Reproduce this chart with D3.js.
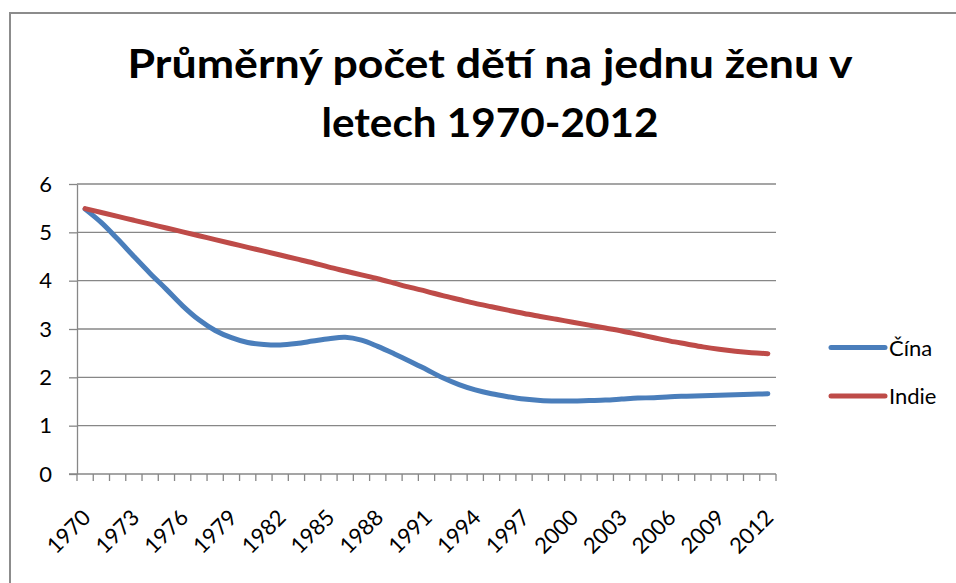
<!DOCTYPE html>
<html>
<head>
<meta charset="utf-8">
<script src="https://cdn.jsdelivr.net/npm/d3@7"></script>
<style>
  body { margin: 0; background: #fff; }
  text { font-family: Lato, "Open Sans", sans-serif; fill: #000; }
</style>
</head>
<body>
<div id="chart"></div>
<script>
// data
var years = d3.range(1970, 2013);
var labelYears = [1970, 1973, 1976, 1979, 1982, 1985, 1988, 1991, 1994, 1997, 2000, 2003, 2006, 2009, 2012];
var yTicks = [0, 1, 2, 3, 4, 5, 6];
var cina = [5.48, 5.20, 4.86, 4.50, 4.15, 3.82, 3.48, 3.19, 2.97, 2.82, 2.72, 2.68, 2.67, 2.70, 2.75,
            2.80, 2.83, 2.77, 2.64, 2.49, 2.33, 2.16, 1.99, 1.85, 1.74, 1.66, 1.60, 1.55, 1.52, 1.51,
            1.51, 1.52, 1.53, 1.55, 1.57, 1.58, 1.60, 1.61, 1.62, 1.63, 1.64, 1.65, 1.66];
var indie = [5.49, 5.41, 5.33, 5.25, 5.17, 5.09, 5.01, 4.93, 4.85, 4.77, 4.69, 4.61, 4.53, 4.45, 4.37,
             4.28, 4.20, 4.12, 4.04, 3.95, 3.86, 3.78, 3.69, 3.61, 3.53, 3.46, 3.39, 3.32, 3.26, 3.20,
             3.14, 3.08, 3.02, 2.96, 2.89, 2.82, 2.75, 2.69, 2.63, 2.58, 2.54, 2.51, 2.49];
var seriesNames = ["Čína", "Indie"];
var colors = ["#4a7ebb", "#be4b48"];
var titleLines = ["Průměrný počet dětí na jednu ženu v", "letech 1970-2012"];

var w = 956;
var h = 583;
// plot area (window.top is reserved, so use own names)
var pLeft = 77, pRight = 776, pTop = 184, pBottom = 474;

var svg = d3.select("#chart")
            .append("svg")
            .attr("width", w)
            .attr("height", h);

// outer chart border
svg.append("rect")
   .attr("x", 10)
   .attr("y", 13)
   .attr("width", 980)
   .attr("height", 620)
   .attr("fill", "none")
   .attr("stroke", "#8c8c8c")
   .attr("stroke-width", 2);

// title
svg.append("text")
   .attr("x", 490)
   .attr("y", 78)
   .attr("text-anchor", "middle")
   .attr("font-size", 40)
   .attr("font-weight", "bold")
   .attr("textLength", 725)
   .attr("lengthAdjust", "spacingAndGlyphs")
   .text(titleLines[0]);

svg.append("text")
   .attr("x", 490)
   .attr("y", 137)
   .attr("text-anchor", "middle")
   .attr("font-size", 40)
   .attr("font-weight", "bold")
   .attr("textLength", 337)
   .attr("lengthAdjust", "spacingAndGlyphs")
   .text(titleLines[1]);

// scales
var band = d3.scaleBand().domain(years).range([pLeft, pRight]);
var x = d3.scalePoint().domain(years).range([pLeft, pRight]).padding(0.5);
var y = d3.scaleLinear().domain([0, 6]).range([pBottom, pTop]);

// gridlines
svg.append("g")
   .selectAll("line")
   .data(yTicks.slice(1))
   .enter()
   .append("line")
   .attr("x1", pLeft)
   .attr("x2", pRight)
   .attr("y1", function(d) { return y(d); })
   .attr("y2", function(d) { return y(d); })
   .attr("stroke", "#878787")
   .attr("stroke-width", 1.3);

// y axis
var yAxis = svg.append("g")
   .attr("transform", "translate(" + pLeft + ",0)")
   .call(d3.axisLeft(y).tickValues(yTicks).tickFormat(d3.format("d"))
           .tickSize(8).tickPadding(17).tickSizeOuter(0));
yAxis.select(".domain").attr("stroke", "#878787").attr("stroke-width", 1.3);
yAxis.selectAll(".tick line").attr("stroke", "#878787").attr("stroke-width", 1.3);
yAxis.selectAll(".tick text")
     .attr("font-size", 22)
     .attr("font-family", "Lato, sans-serif")
     .attr("fill", "#000");

// x axis line + ticks between categories
svg.append("line")
   .attr("x1", pLeft - 8)
   .attr("x2", pRight)
   .attr("y1", pBottom)
   .attr("y2", pBottom)
   .attr("stroke", "#878787")
   .attr("stroke-width", 1.3);

var bounds = years.map(function(d) { return band(d); }).concat([pRight]);
svg.append("g")
   .selectAll("line")
   .data(bounds)
   .enter()
   .append("line")
   .attr("x1", function(d) { return d; })
   .attr("x2", function(d) { return d; })
   .attr("y1", pBottom)
   .attr("y2", pBottom + 7)
   .attr("stroke", "#878787")
   .attr("stroke-width", 1.3);

svg.append("g")
   .selectAll("text")
   .data(labelYears)
   .enter()
   .append("text")
   .attr("transform", function(d) { return "translate(" + (x(d) + 7) + "," + (pBottom + 45) + ") rotate(-45)"; })
   .attr("text-anchor", "end")
   .attr("font-size", 22)
   .text(function(d) { return d; });

// lines
var line = d3.line()
             .x(function(d, i) { return x(years[i]); })
             .y(function(d) { return y(d); })
             .curve(d3.curveCatmullRom);

[cina, indie].forEach(function(s, i) {
  svg.append("path")
     .datum(s)
     .attr("d", line)
     .attr("fill", "none")
     .attr("stroke", colors[i])
     .attr("stroke-width", 5)
     .attr("stroke-linecap", "round")
     .attr("stroke-linejoin", "round");
});

// legend
var legend = svg.append("g")
   .selectAll("g")
   .data(seriesNames)
   .enter()
   .append("g")
   .attr("transform", function(d, i) { return "translate(831," + (347.5 + i * 48.5) + ")"; });

legend.append("line")
      .attr("x1", 0)
      .attr("x2", 54)
      .attr("stroke", function(d, i) { return colors[i]; })
      .attr("stroke-width", 5)
      .attr("stroke-linecap", "round");

legend.append("text")
      .attr("x", 58)
      .attr("y", 8)
      .attr("font-size", 22)
      .text(function(d) { return d; });
</script>
</body>
</html>
